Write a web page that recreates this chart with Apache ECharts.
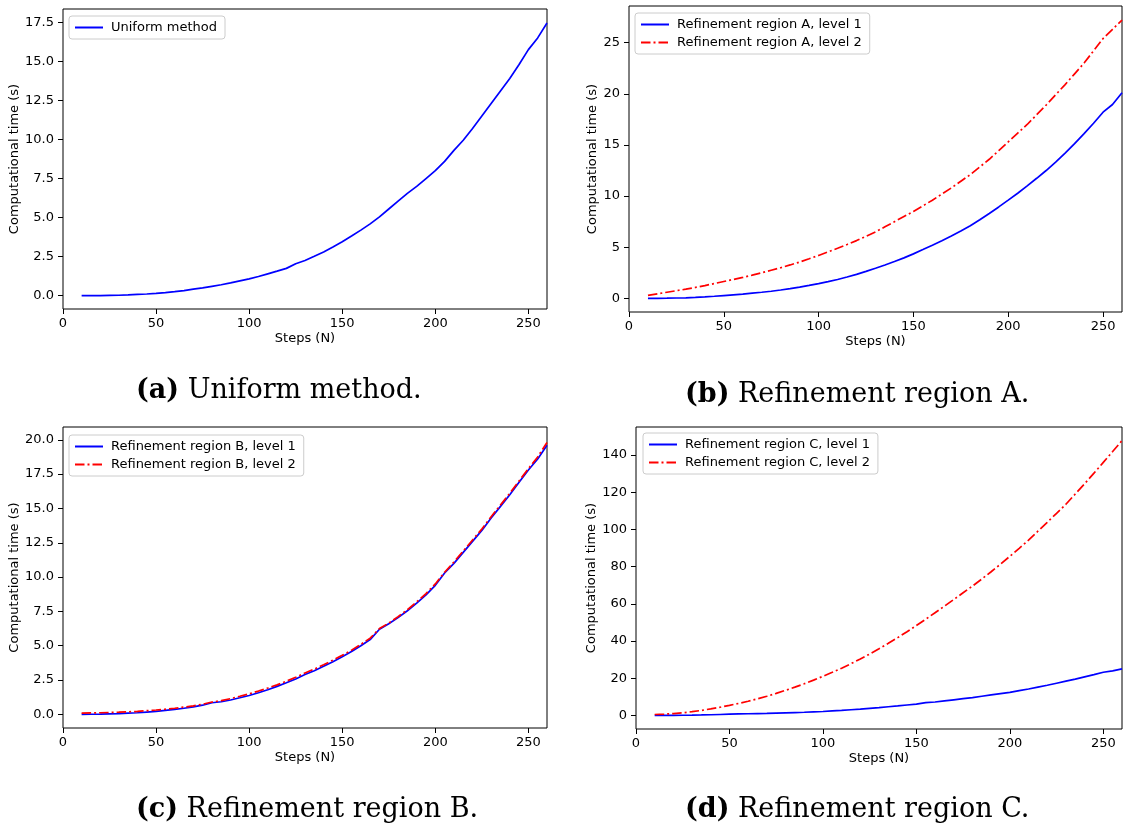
<!DOCTYPE html>
<html>
<head>
<meta charset="utf-8">
<script src="https://cdn.jsdelivr.net/npm/echarts@6/dist/echarts.min.js"></script>
<style>
  html, body { margin: 0; padding: 0; background: #ffffff; }
  #chart { width: 1123px; height: 826px; }
</style>
</head>
<body>
<div id="chart"></div>
<script>
// Number of steps N (shared by every run)
const steps = [10,15,20,25,30,35,40,45,50,55,60,65,70,75,80,85,90,95,100,105,110,115,120,125,130,135,140,145,150,155,160,165,170,175,180,185,190,195,200,205,210,215,220,225,230,235,240,245,250,255,260];

// Computational time (s) for each run
const uniformTime = [0.00,0.00,0.01,0.02,0.03,0.05,0.08,0.11,0.15,0.20,0.26,0.33,0.42,0.50,0.60,0.70,0.82,0.95,1.08,1.23,1.40,1.57,1.75,2.05,2.25,2.52,2.80,3.12,3.45,3.82,4.20,4.60,5.05,5.55,6.05,6.55,7.00,7.50,8.00,8.60,9.30,9.95,10.70,11.50,12.30,13.10,13.90,14.80,15.75,16.50,17.45];

const regionA1 = [0.00,0.01,0.02,0.04,0.06,0.10,0.15,0.21,0.28,0.35,0.42,0.51,0.60,0.70,0.82,0.95,1.10,1.27,1.45,1.64,1.85,2.09,2.35,2.64,2.95,3.27,3.60,3.96,4.35,4.77,5.20,5.64,6.10,6.59,7.10,7.68,8.30,8.94,9.60,10.28,11.00,11.74,12.50,13.33,14.20,15.13,16.10,17.12,18.20,18.95,20.10];
const regionA2 = [0.30,0.45,0.60,0.75,0.90,1.07,1.25,1.45,1.65,1.85,2.05,2.27,2.50,2.75,3.00,3.27,3.55,3.87,4.20,4.55,4.90,5.27,5.65,6.07,6.50,7.00,7.50,8.00,8.50,9.05,9.60,10.20,10.80,11.45,12.10,12.85,13.60,14.45,15.30,16.15,17.00,17.95,18.90,19.90,20.90,21.95,23.00,24.20,25.40,26.30,27.20];

const regionB1 = [0.00,0.01,0.02,0.04,0.06,0.09,0.12,0.17,0.22,0.29,0.36,0.45,0.55,0.67,0.85,0.92,1.05,1.21,1.38,1.58,1.80,2.04,2.30,2.58,2.90,3.18,3.50,3.84,4.20,4.58,5.00,5.45,6.20,6.60,7.05,7.55,8.10,8.70,9.40,10.30,11.00,11.80,12.60,13.40,14.30,15.15,16.00,16.90,17.80,18.60,19.60];
const regionB2 = [0.10,0.11,0.12,0.14,0.16,0.19,0.22,0.27,0.32,0.38,0.45,0.53,0.62,0.74,0.90,1.00,1.15,1.32,1.50,1.70,1.92,2.15,2.42,2.70,3.02,3.30,3.62,3.95,4.30,4.68,5.10,5.55,6.25,6.65,7.12,7.62,8.20,8.80,9.50,10.35,11.10,11.90,12.70,13.50,14.40,15.25,16.10,17.00,17.90,18.75,19.80];

const regionC1 = [0.00,0.02,0.05,0.09,0.15,0.24,0.35,0.50,0.65,0.78,0.90,1.00,1.10,1.25,1.40,1.55,1.70,1.90,2.10,2.40,2.70,3.05,3.40,3.80,4.20,4.65,5.10,5.60,6.10,6.90,7.20,7.80,8.40,9.00,9.60,10.30,11.00,11.70,12.40,13.30,14.20,15.20,16.20,17.30,18.40,19.50,20.70,21.90,23.20,23.90,25.00];
const regionC2 = [0.50,0.70,1.00,1.40,2.00,2.70,3.50,4.40,5.40,6.45,7.60,8.90,10.30,11.85,13.50,15.20,17.00,18.95,21.00,23.15,25.40,27.80,30.30,33.00,35.80,38.75,41.80,45.00,48.30,51.70,55.20,58.70,62.30,65.90,69.50,73.30,77.20,81.30,85.50,89.80,94.20,99.00,103.80,108.60,113.50,119.00,124.50,130.20,136.00,141.80,147.70];

// Tick labels
const stepTicks = [0, 50, 100, 150, 200, 250];
const ticksUniform = [0, 2.5, 5, 7.5, 10, 12.5, 15, 17.5];
const ticksA = [0, 5, 10, 15, 20, 25];
const ticksB = [0, 2.5, 5, 7.5, 10, 12.5, 15, 17.5, 20];
const ticksC = [0, 20, 40, 60, 80, 100, 120, 140];

const BLUE = '#0000ff';
const RED = '#ff0000';
const DASHDOT = [9.5, 3, 2, 3];
const SANS = 'DejaVu Sans';
const SERIF = 'DejaVu Serif';
const FS = 13;

const panels = [
  {
    grid: { left: 63, top: 9, width: 484, height: 300 },
    yRange: [-0.85, 18.35], yTicks: ticksUniform, digits: 1, yNameGap: 41,
    legendPos: { left: 69, top: 16 },
    lines: [{ name: 'Uniform method', values: uniformTime, color: BLUE, type: 'solid' }],
    caption: { x: 136, y: 388, tag: '(a)', text: 'Uniform method.' }
  },
  {
    grid: { left: 629, top: 6, width: 493, height: 306 },
    yRange: [-1.33, 28.58], yTicks: ticksA, digits: 0, yNameGap: 30,
    legendPos: { left: 635, top: 13 },
    lines: [
      { name: 'Refinement region A, level 1', values: regionA1, color: BLUE, type: 'solid' },
      { name: 'Refinement region A, level 2', values: regionA2, color: RED, type: DASHDOT }
    ],
    caption: { x: 685, y: 392, tag: '(b)', text: 'Refinement region A.' }
  },
  {
    grid: { left: 63, top: 427, width: 484, height: 301 },
    yRange: [-0.99, 20.93], yTicks: ticksB, digits: 1, yNameGap: 41,
    legendPos: { left: 69, top: 435 },
    lines: [
      { name: 'Refinement region B, level 1', values: regionB1, color: BLUE, type: 'solid' },
      { name: 'Refinement region B, level 2', values: regionB2, color: RED, type: DASHDOT }
    ],
    caption: { x: 136, y: 807, tag: '(c)', text: 'Refinement region B.' }
  },
  {
    grid: { left: 636, top: 427, width: 486, height: 302 },
    yRange: [-7.3, 155.0], yTicks: ticksC, digits: 0, yNameGap: 37,
    legendPos: { left: 643, top: 433 },
    lines: [
      { name: 'Refinement region C, level 1', values: regionC1, color: BLUE, type: 'solid' },
      { name: 'Refinement region C, level 2', values: regionC2, color: RED, type: DASHDOT }
    ],
    caption: { x: 685, y: 807, tag: '(d)', text: 'Refinement region C.' }
  }
];

const option = {
  animation: false,
  backgroundColor: '#ffffff',
  grid: [], xAxis: [], yAxis: [], series: [], legend: [], graphic: []
};

panels.forEach((p, i) => {
  option.grid.push(Object.assign({
    show: true, borderColor: '#000000', borderWidth: 1, backgroundColor: 'transparent'
  }, p.grid));

  option.xAxis.push({
    type: 'value', gridIndex: i, min: 0, max: 260,
    name: 'Steps (N)', nameLocation: 'middle', nameGap: 23,
    nameTextStyle: { fontFamily: SANS, fontSize: FS, color: '#000' },
    axisLine: { show: false, onZero: false },
    axisTick: { show: true, length: 5, lineStyle: { color: '#000', width: 1 }, customValues: stepTicks },
    axisLabel: { fontFamily: SANS, fontSize: FS, color: '#000', margin: 8, customValues: stepTicks },
    splitLine: { show: false }
  });

  option.yAxis.push({
    type: 'value', gridIndex: i, min: p.yRange[0], max: p.yRange[1],
    name: 'Computational time (s)', nameLocation: 'middle', nameRotate: 90, nameGap: p.yNameGap,
    nameTextStyle: { fontFamily: SANS, fontSize: FS, color: '#000' },
    axisLine: { show: false, onZero: false },
    axisTick: { show: true, length: 5, lineStyle: { color: '#000', width: 1 }, customValues: p.yTicks },
    axisLabel: {
      fontFamily: SANS, fontSize: FS, color: '#000', margin: 9, customValues: p.yTicks,
      formatter: v => Number(v).toFixed(p.digits)
    },
    splitLine: { show: false }
  });

  p.lines.forEach(l => {
    option.series.push({
      type: 'line', name: l.name, xAxisIndex: i, yAxisIndex: i,
      data: steps.map((s, k) => [s, l.values[k]]),
      symbol: 'none', smooth: false, clip: true,
      lineStyle: { color: l.color, width: 1.7, type: l.type },
      itemStyle: { color: l.color }
    });
  });

  option.legend.push({
    data: p.lines.map(l => l.name),
    orient: 'vertical', left: p.legendPos.left, top: p.legendPos.top,
    itemWidth: 28, itemHeight: 12, itemGap: 5,
    padding: [5, 8, 5, 5],
    backgroundColor: 'rgba(255,255,255,0.8)',
    borderColor: '#cccccc', borderWidth: 1, borderRadius: 3,
    selectedMode: false,
    itemStyle: { opacity: 0 },
    textStyle: { fontFamily: SANS, fontSize: FS, color: '#000', padding: [0, 0, 0, 3] }
  });

  option.graphic.push({
    type: 'text', left: p.caption.x, top: p.caption.y - 11,
    style: {
      text: '{b|' + p.caption.tag + '} ' + p.caption.text,
      fontFamily: SERIF, fontSize: 27, fill: '#000',
      rich: { b: { fontFamily: SERIF, fontSize: 27, fontWeight: 'bold' } }
    }
  });
});

const chart = echarts.init(document.getElementById('chart'), null, { renderer: 'canvas' });
chart.setOption(option);
</script>
</body>
</html>
